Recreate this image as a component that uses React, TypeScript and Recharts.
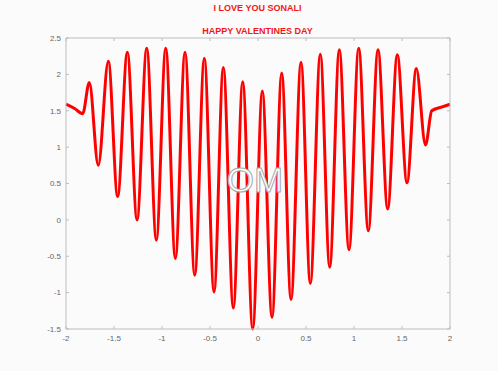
import React from 'react';
import { LineChart, Line, XAxis, YAxis } from 'recharts';

// Curve points (peaks, troughs, kinks)
const xValues = [
  -2, -1.91, -1.826, -1.757, -1.664, -1.559, -1.462, -1.361, -1.26, -1.159,
  -1.059, -0.961, -0.861, -0.76, -0.659, -0.559, -0.458, -0.361, -0.257, -0.159,
  -0.055, 0.045, 0.146, 0.247, 0.344, 0.448, 0.545, 0.649, 0.747, 0.847,
  0.948, 1.049, 1.149, 1.25, 1.351, 1.451, 1.552, 1.649, 1.745, 1.81,
  1.91, 2,
];
const yValues = [
  1.59, 1.53, 1.46, 1.89, 0.75, 2.18, 0.32, 2.305, 0.0, 2.36,
  -0.28, 2.36, -0.53, 2.305, -0.76, 2.22, -0.99, 2.095, -1.21, 1.9,
  -1.5, 1.77, -1.34, 2.02, -1.095, 2.167, -0.875, 2.277, -0.65, 2.34,
  -0.41, 2.36, -0.15, 2.34, 0.15, 2.27, 0.51, 2.08, 1.03, 1.5,
  1.55, 1.59,
];
const xTicks = [-2, -1.5, -1, -0.5, 0, 0.5, 1, 1.5, 2];
const yTicks = [-1.5, -1, -0.5, 0, 0.5, 1, 1.5, 2, 2.5];
const titleLine1 = 'I LOVE YOU SONALI';
const titleLine2 = 'HAPPY VALENTINES DAY';
const centerText = 'OM';

const data = xValues.map((x, i) => ({ x, y: yValues[i] }));

const boxColor = '#bdbdbd';
const tickStyle = { fill: '#666', fontSize: 8, fontFamily: 'Liberation Sans, Arial, sans-serif' };
const noLabel = () => <g />;

export default function App() {
  return (
    <div style={{ position: 'absolute', left: 0, top: 0, width: 498, height: 371, background: '#fbfbfb' }}>
      <LineChart width={498} height={371} data={data} margin={{ top: 37, right: 47, bottom: 0, left: 0 }}>
        <XAxis
          xAxisId="b"
          dataKey="x"
          type="number"
          domain={[-2, 2]}
          ticks={xTicks}
          interval={0}
          height={42}
          tickSize={-3}
          tickMargin={9}
          axisLine={{ stroke: boxColor }}
          tickLine={{ stroke: boxColor }}
          tick={tickStyle}
        />
        <XAxis
          xAxisId="t"
          dataKey="x"
          orientation="top"
          type="number"
          domain={[-2, 2]}
          ticks={xTicks}
          interval={0}
          height={1}
          tickSize={-3}
          axisLine={{ stroke: boxColor }}
          tickLine={{ stroke: boxColor }}
          tick={noLabel}
        />
        <YAxis
          yAxisId="l"
          type="number"
          domain={[-1.5, 2.5]}
          ticks={yTicks}
          interval={0}
          width={66}
          tickSize={-3}
          tickMargin={8}
          axisLine={{ stroke: boxColor }}
          tickLine={{ stroke: boxColor }}
          tick={tickStyle}
        />
        <YAxis
          yAxisId="r"
          orientation="right"
          type="number"
          domain={[-1.5, 2.5]}
          ticks={yTicks}
          interval={0}
          width={1}
          tickSize={-3}
          axisLine={{ stroke: boxColor }}
          tickLine={{ stroke: boxColor }}
          tick={noLabel}
        />
        <Line
          xAxisId="t"
          yAxisId="r"
          type="monotone"
          dataKey="y"
          stroke="none"
          strokeWidth={0}
          dot={false}
          activeDot={false}
          isAnimationActive={false}
        />
        <Line
          xAxisId="b"
          yAxisId="l"
          type="monotone"
          dataKey="y"
          stroke="#ff0000"
          strokeWidth={3}
          dot={false}
          activeDot={false}
          isAnimationActive={false}
        />
      </LineChart>
      <svg
        width={498}
        height={371}
        style={{ position: 'absolute', left: 0, top: 0, pointerEvents: 'none' }}
      >
        <text x={257.5} y={10.7} textAnchor="middle" fontSize={9} fontWeight="bold"
          fontFamily="Liberation Sans, Arial, sans-serif" fill="#f01818">{titleLine1}</text>
        <text x={257.5} y={34.3} textAnchor="middle" fontSize={9} fontWeight="bold"
          fontFamily="Liberation Sans, Arial, sans-serif" fill="#f01818">{titleLine2}</text>
        <text x={255} y={191.7} textAnchor="middle" fontSize={35}
          fontFamily="Liberation Sans, Arial, sans-serif" fill="#ffffff" stroke="#a8a8a8"
          strokeWidth={1}>{centerText}</text>
      </svg>
    </div>
  );
}
